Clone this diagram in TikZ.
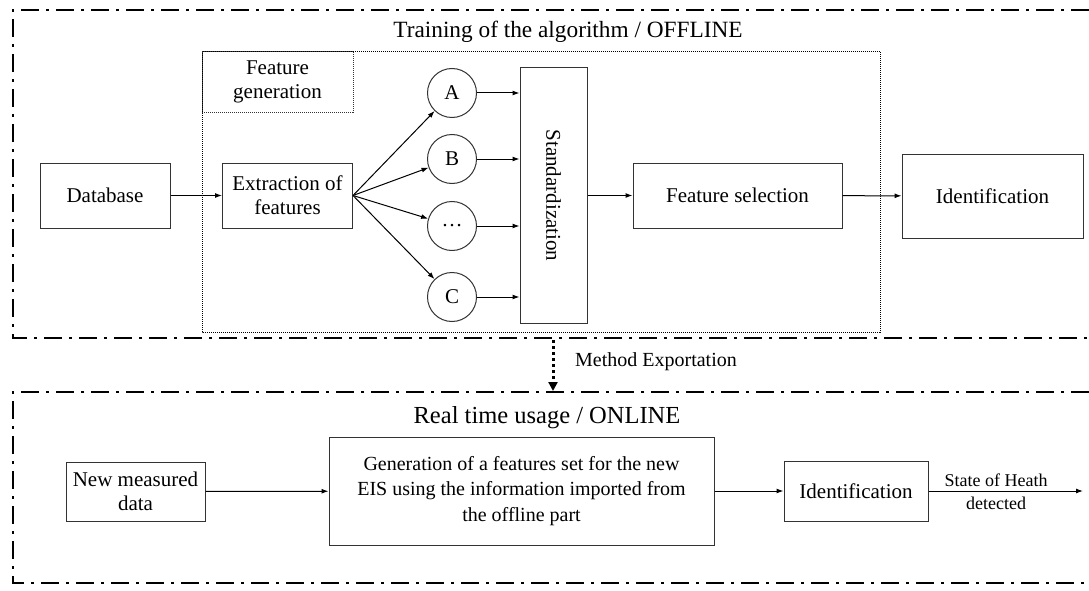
\documentclass[tikz,border=0pt]{standalone}
\usepackage{fontspec}
\setmainfont{Liberation Serif}
\usetikzlibrary{arrows.meta,positioning}

\begin{document}
\begin{tikzpicture}[x=1pt,y=-1pt,font=\fontsize{21}{25}\selectfont,
  box/.style={draw=black!80,line width=1pt,inner sep=2pt,align=center},
  circ/.style={draw=black!80,line width=1pt,circle,minimum size=49pt,inner sep=0pt},
  arr/.style={line width=1pt,-{Latex[length=7pt,width=5pt]}},
  dashdot/.style={line width=2.5pt,dash pattern=on 18pt off 7pt on 3pt off 7pt},
  region/.style={line width=0.9pt,dash pattern=on 1pt off 1pt},
  title/.style={font=\fontsize{24.5}{28}\selectfont}]
\useasboundingbox (0,0) rectangle (1089,591);
% offline part
\draw[dashdot] (1089,10) -| (13,338) -- (1089,338);
\node[title,font=\fontsize{23.3}{28}\selectfont] at (568,32) (offtitle) {Training of the algorithm / OFFLINE};
\draw[region] (202,51) rectangle (880,332);
\node[box,region,minimum width=151pt,minimum height=61pt] at (277.5,81.5) (gentitle) {Feature\\[-1pt]generation};
\node[box,minimum width=130pt,minimum height=65pt] at (105,195.5) (db) {Database};
\node[box,minimum width=130pt,minimum height=65pt] at (287.5,195.5) (extr) {Extraction of\\[-1pt]features};
\foreach \n/\y/\lab in {fa/93/A,fb/159/B,fdots/226/\dots,fc/297/C}{
  \node[circ] at (452,\y) (\n) {\lab};}
\node[box,minimum width=67pt,minimum height=255pt] at (553.5,195.5) (std) {\rotatebox{-90}{Standardization}};
\node[box,minimum width=209pt,minimum height=65pt] at (737.5,195.5) (fsel) {Feature selection};
\node[box,minimum width=181pt,minimum height=84pt] at (992.5,196) (ident) {Identification};
\draw[arr] (db) -- (extr);
\foreach \n in {fa,fb,fdots,fc}{
  \draw[arr] (extr.east) -- (\n);
  \draw[arr] (\n) -- (\n -| std.west);}
\draw[arr] (std) -- (fsel);
\draw[arr] (fsel) -- (ident);
% export
\coordinate (exptop) at (553,340);
\coordinate (expbot) at (553,391);
\draw[line width=3pt,dash pattern=on 3pt off 3pt,-{Triangle[length=9pt,width=9pt]}] (exptop) -- (expbot);
\node[font=\fontsize{20}{24}\selectfont] at (656,362) (explab) {Method Exportation};
% online part
\draw[dashdot] (1089,392) -| (13,583) -- (1089,583);
\node[title] at (547,418) (ontitle) {Real time usage / ONLINE};
\node[box,minimum width=139pt,minimum height=59pt] at (135.5,491.5) (newdata) {New measured\\[-1pt]data};
\node[box,font=\fontsize{20}{25.5}\selectfont,minimum width=385pt,minimum height=108pt] at (521.5,491) (genset) {Generation of a features set for the new\\EIS using the information imported from\\the offline part};
\node[box,minimum width=144pt,minimum height=60pt] at (856,491) (ident2) {Identification};
\coordinate (soh) at (1083,491);
\draw[arr] (newdata) -- (genset);
\draw[arr] (genset) -- (ident2);
\draw[arr] (ident2) -- (soh);
\node[font=\fontsize{18}{21}\selectfont] at (996,480) (sohtop) {State of Heath};
\node[font=\fontsize{18}{21}\selectfont] at (996,503) (sohbot) {detected};
\end{tikzpicture}
\end{document}
